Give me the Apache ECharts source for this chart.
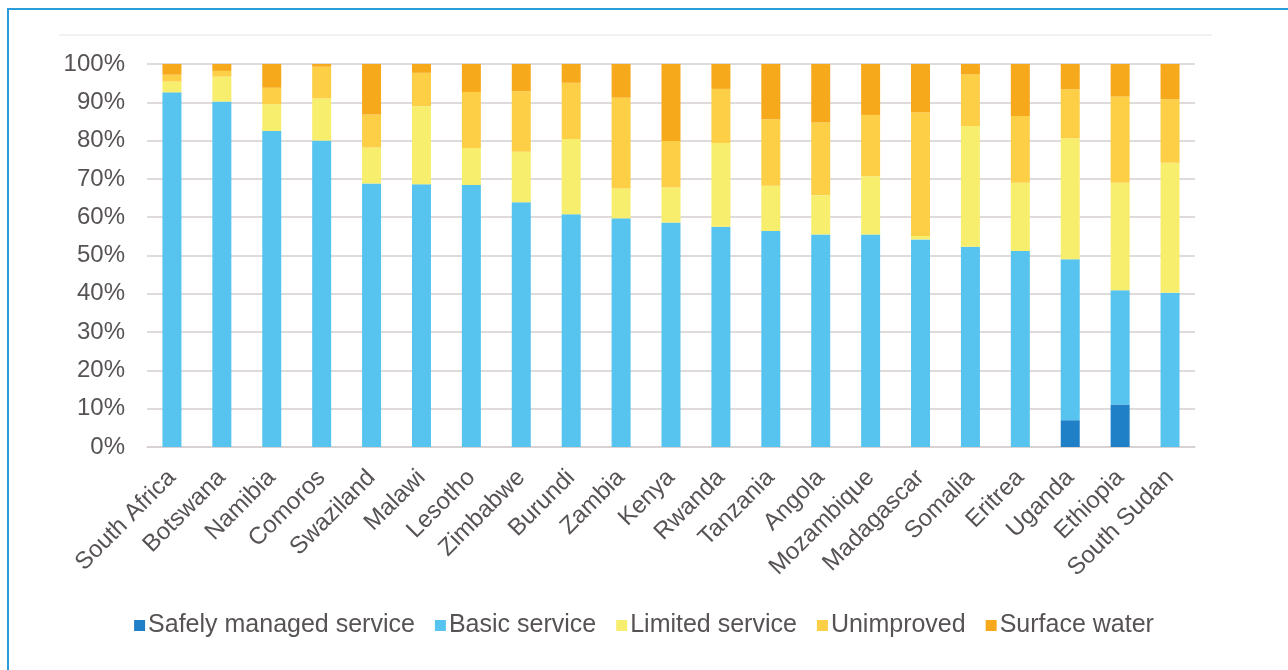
<!DOCTYPE html>
<html>
<head>
<meta charset="utf-8">
<script src="https://cdn.jsdelivr.net/npm/echarts@6/dist/echarts.min.js"></script>
<style>
  html, body { margin: 0; padding: 0; background: #ffffff; }
  #frame {
    position: absolute; left: 7px; top: 8px; width: 1400px; height: 800px;
    border-left: 2px solid #2a9cd8; border-top: 2px solid #2a9cd8;
    pointer-events: none; z-index: 2;
  }
  #chart { position: absolute; left: 0; top: 0; width: 1288px; height: 670px; }
</style>
</head>
<body>
<div id="chart"></div>
<div id="frame"></div>
<script>
// Drinking water service levels by country (percent of population)
const countries = ['South Africa', 'Botswana', 'Namibia', 'Comoros', 'Swaziland', 'Malawi', 'Lesotho',
  'Zimbabwe', 'Burundi', 'Zambia', 'Kenya', 'Rwanda', 'Tanzania', 'Angola', 'Mozambique',
  'Madagascar', 'Somalia', 'Eritrea', 'Uganda', 'Ethiopia', 'South Sudan'];

const safelyManaged = [0, 0, 0, 0, 0, 0, 0, 0, 0, 0, 0, 0, 0, 0, 0, 0, 0, 0, 7.0, 11.1, 0];
const basicService = [92.6, 90.2, 82.5, 80.0, 68.8, 68.6, 68.4, 63.9, 60.8, 59.7, 58.6, 57.5, 56.4, 55.5, 55.5, 54.2, 52.3, 51.2, 42.0, 29.8, 40.3];
const limitedService = [2.8, 6.5, 7.0, 11.0, 9.4, 20.4, 9.7, 13.2, 19.6, 7.8, 9.2, 21.9, 11.8, 10.2, 15.2, 0.9, 31.5, 17.8, 31.6, 28.1, 33.9];
const unimproved = [1.8, 1.5, 4.3, 8.3, 8.6, 8.7, 14.6, 15.8, 14.7, 23.7, 12.1, 14.1, 17.4, 19.0, 16.0, 32.3, 13.5, 17.4, 12.8, 22.5, 16.6];
const surfaceWater = [2.8, 1.8, 6.2, 0.7, 13.2, 2.3, 7.3, 7.1, 4.9, 8.8, 20.1, 6.5, 14.4, 15.3, 13.3, 12.6, 2.7, 13.6, 6.6, 8.5, 9.2];

const seriesNames = ['Safely managed service', 'Basic service', 'Limited service', 'Unimproved', 'Surface water'];
const seriesColors = ['#1f7fc7', '#57c4ef', '#f8ee6e', '#fccf47', '#f6a91b'];
const seriesData = [safelyManaged, basicService, limitedService, unimproved, surfaceWater];

const textColor = '#575353';
const fontFamily = 'Liberation Sans, Arial, sans-serif';

const chart = echarts.init(document.getElementById('chart'), null, { renderer: 'canvas' });

chart.setOption({
  backgroundColor: '#ffffff',
  animation: false,
  graphic: [{
    type: 'line',
    shape: { x1: 59, y1: 35, x2: 1212, y2: 35 },
    style: { stroke: '#e4e4e4', lineWidth: 1 }
  }],
  grid: { left: 147, right: 93, top: 64, bottom: 223, containLabel: false },
  legend: {
    bottom: 27,
    left: 'center',
    itemWidth: 11,
    itemHeight: 11,
    itemGap: 20,
    icon: 'rect',
    textStyle: { color: textColor, fontSize: 25, fontFamily: fontFamily, padding: [0, 0, 0, -2] },
    data: seriesNames
  },
  xAxis: {
    type: 'category',
    data: countries,
    axisTick: { show: false },
    axisLine: { lineStyle: { color: '#d6cfcf', width: 1.5 } },
    axisLabel: {
      rotate: 45,
      interval: 0,
      margin: 27,
      color: textColor,
      fontSize: 24,
      fontFamily: fontFamily
    }
  },
  yAxis: {
    type: 'value',
    min: 0,
    max: 100,
    interval: 10,
    axisLine: { show: false },
    axisTick: { show: false },
    splitLine: { lineStyle: { color: '#d6cfcf', width: 1.5 } },
    axisLabel: {
      formatter: '{value}%',
      margin: 22,
      color: textColor,
      fontSize: 24,
      fontFamily: fontFamily
    }
  },
  series: seriesNames.map((name, i) => ({
    name: name,
    type: 'bar',
    stack: 'total',
    barWidth: 19,
    itemStyle: { color: seriesColors[i] },
    data: seriesData[i]
  }))
});
</script>
</body>
</html>
